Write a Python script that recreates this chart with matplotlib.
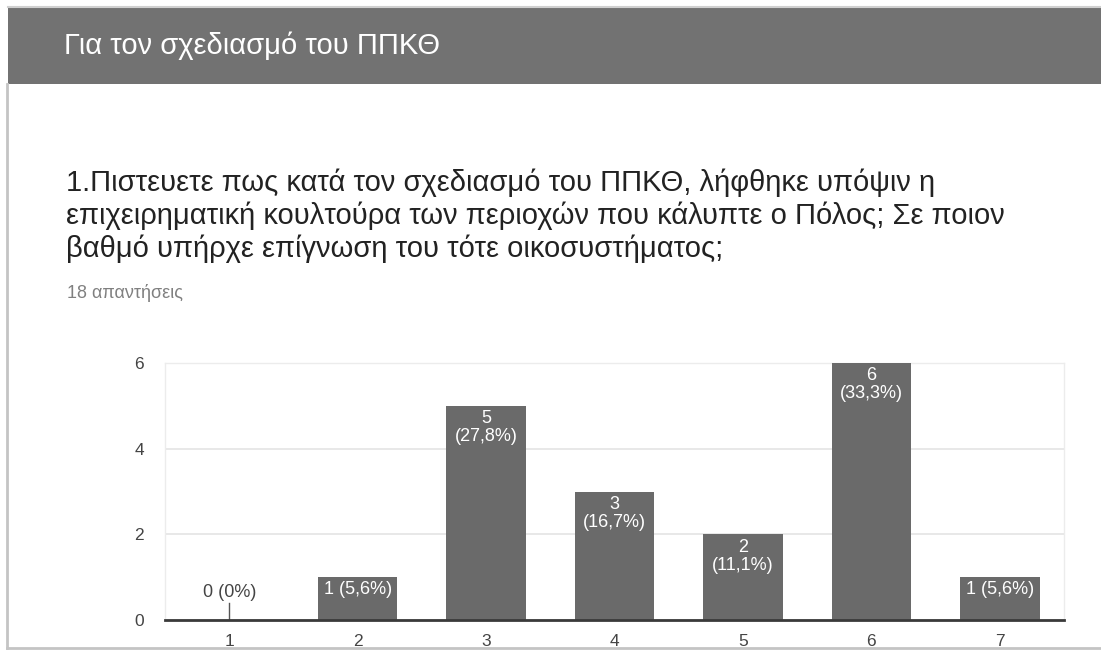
import matplotlib
matplotlib.use("Agg")
import matplotlib.pyplot as plt
from matplotlib.patches import Rectangle
from matplotlib.lines import Line2D

plt.rcParams['font.family'] = ['Liberation Sans', 'DejaVu Sans']

# ~~~~~~~~~~~~~~~~~~~~~~~~~~~~~~~~~~~~~~~~~~~~~~~~~~~~~~~~
# Data
categories = ['1', '2', '3', '4', '5', '6', '7']
counts = [0, 1, 5, 3, 2, 6, 1]
pct_labels = ['0%', '5,6%', '27,8%', '16,7%', '11,1%', '33,3%', '5,6%']
y_ticks = [0, 2, 4, 6]

header = 'Για τον σχεδιασμό του ΠΠΚΘ'
question = ('1.Πιστευετε πως κατά τον σχεδιασμό του ΠΠΚΘ, λήφθηκε υπόψιν η\n'
            'επιχειρηματική κουλτούρα των περιοχών που κάλυπτε ο Πόλος; Σε ποιον\n'
            'βαθμό υπήρχε επίγνωση του τότε οικοσυστήματος;')
n_answers = '18 απαντήσεις'

W, H = 1101, 650
bar_color = '#6a6a6a'

fig = plt.figure(figsize=(W / 100, H / 100), dpi=100)
fig.patch.set_facecolor('white')

# Header band and card borders
fig.add_artist(Rectangle((8 / W, 1 - 84 / H), 1 - 8 / W, 76 / H,
                         transform=fig.transFigure, facecolor='#727272', edgecolor='none'))
fig.add_artist(Line2D([8 / W, 1], [1 - 7 / H, 1 - 7 / H], transform=fig.transFigure,
                      color='#d0d0d0', lw=1.5))
fig.add_artist(Line2D([7 / W, 7 / W], [1 - 84 / H, 1 - 648 / H], transform=fig.transFigure,
                      color='#c4c4c4', lw=2))
fig.add_artist(Line2D([7 / W, 1], [1 - 648 / H, 1 - 648 / H], transform=fig.transFigure,
                      color='#c4c4c4', lw=2))

fig.text(64 / W, 1 - 46 / H, header, color='white', fontsize=21, va='center', ha='left')
fig.text(66 / W, 1 - 168 / H, question, color='#222222', fontsize=21, va='top', ha='left',
         linespacing=1.2)
fig.text(67 / W, 1 - 293 / H, n_answers, color='#808080', fontsize=13, va='center', ha='left')

# ~~~~~~~~~~~~~~~~~~~~~~~~~~~~~~~~~~~~~~~~~~~~~~~~~~~~~~~~
# Bar chart
ax = fig.add_axes([165 / W, 1 - 620 / H, (1064 - 165) / W, (620 - 363) / H])
x = list(range(len(categories)))
ax.bar(x, counts, width=0.62, color=bar_color, zorder=3)

ax.set_xlim(-0.5, len(categories) - 0.5)
ax.set_ylim(0, 6)
ax.set_yticks(y_ticks)
ax.set_xticks(x)
ax.set_xticklabels(categories)
ax.grid(axis='y', color='#e4e4e4', lw=1.2, zorder=0)
ax.tick_params(length=0, labelsize=12.5, labelcolor='#444444')
ax.tick_params(axis='y', pad=15)
ax.tick_params(axis='x', pad=10)

for side in ['left', 'right', 'top']:
    ax.spines[side].set_color('#ececec')
    ax.spines[side].set_linewidth(1)
ax.spines['bottom'].set_color('#3a3a3a')
ax.spines['bottom'].set_linewidth(2)
ax.spines['bottom'].set_zorder(4)

# Value labels
for xi, c, p in zip(x, counts, pct_labels):
    if c == 0:
        ax.plot([xi, xi], [0, 0.4], color='#555555', lw=1, zorder=4)
        ax.annotate(f'{c} ({p})', (xi, 0.4), xytext=(0, 1), textcoords='offset points',
                    ha='center', va='bottom', fontsize=13, color='#444444')
    elif c == 1:
        ax.annotate(f'{c} ({p})', (xi, c), xytext=(0, -3), textcoords='offset points',
                    ha='center', va='top', fontsize=13, color='white', zorder=5)
    else:
        ax.annotate(f'{c}\n({p})', (xi, c), xytext=(0, -3), textcoords='offset points',
                    ha='center', va='top', fontsize=13, color='white', zorder=5,
                    linespacing=1.1)

fig.savefig('out.png', dpi=100)
